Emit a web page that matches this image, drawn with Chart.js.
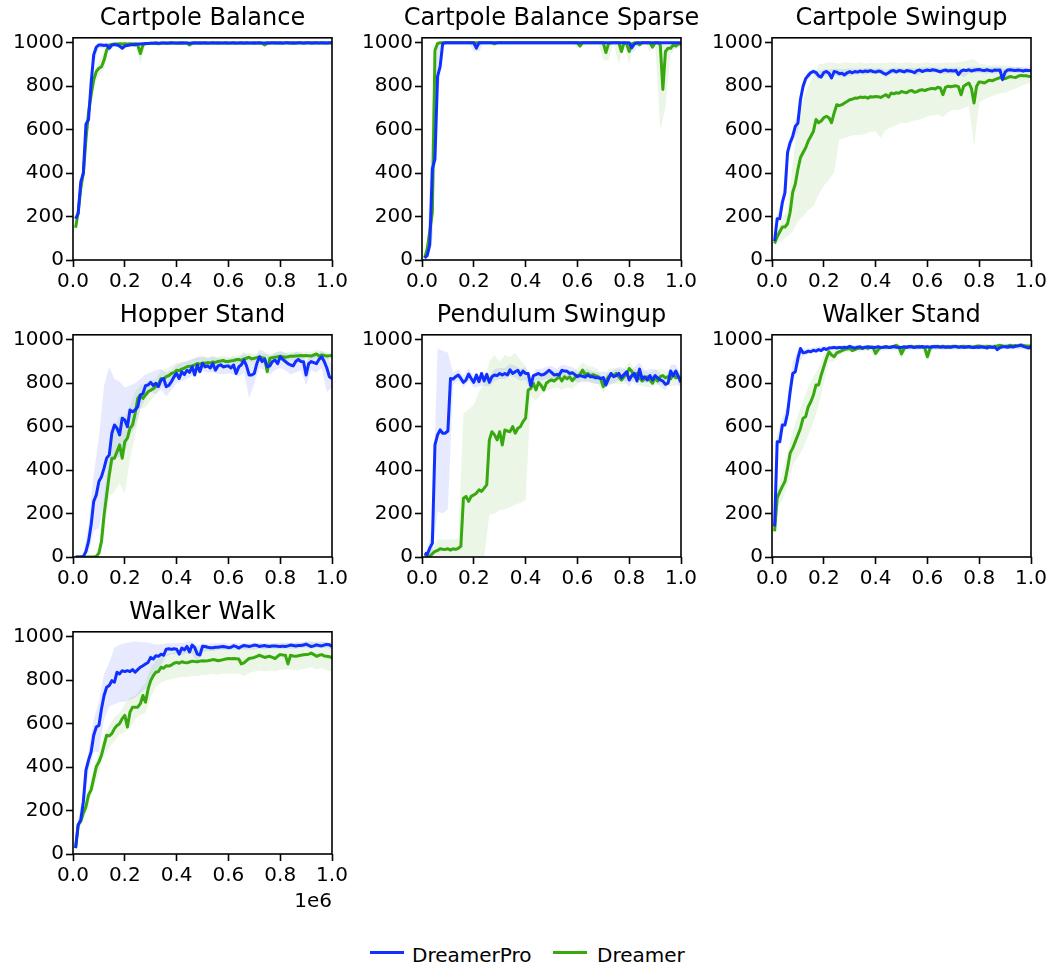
<!DOCTYPE html>
<html>
<head>
<meta charset="utf-8">
<script src="https://cdn.jsdelivr.net/npm/chart.js@4.4.1/dist/chart.umd.min.js"></script>
<style>
  body { margin: 0; background: #fff; width: 1050px; height: 968px; overflow: hidden; position: relative; font-family: 'DejaVu Sans', sans-serif; }
  canvas { position: absolute; }
  .swatch { position: absolute; height: 3px; width: 34px; }
  .label { position: absolute; font-size: 20px; line-height: 24px; color: #000; white-space: nowrap; }
</style>
</head>
<body>
<canvas id="c0"></canvas>
<canvas id="c1"></canvas>
<canvas id="c2"></canvas>
<canvas id="c3"></canvas>
<canvas id="c4"></canvas>
<canvas id="c5"></canvas>
<canvas id="c6"></canvas>
<div class="swatch" style="left:370px; top:951px; background:#1030ff"></div>
<div class="label" style="left:412px; top:943px">DreamerPro</div>
<div class="swatch" style="left:553px; top:951px; background:#38a80f"></div>
<div class="label" style="left:597px; top:943px">Dreamer</div>
<script>
// environment steps, in units of 1e6
const steps = [
  0.01,0.02,0.03,0.04,0.05,0.06,0.07,0.08,0.09,0.10,
  0.11,0.12,0.13,0.14,0.15,0.16,0.17,0.18,0.19,0.20,
  0.21,0.22,0.23,0.24,0.25,0.26,0.27,0.28,0.29,0.30,
  0.31,0.32,0.33,0.34,0.35,0.36,0.37,0.38,0.39,0.40,
  0.41,0.42,0.43,0.44,0.45,0.46,0.47,0.48,0.49,0.50,
  0.51,0.52,0.53,0.54,0.55,0.56,0.57,0.58,0.59,0.60,
  0.61,0.62,0.63,0.64,0.65,0.66,0.67,0.68,0.69,0.70,
  0.71,0.72,0.73,0.74,0.75,0.76,0.77,0.78,0.79,0.80,
  0.81,0.82,0.83,0.84,0.85,0.86,0.87,0.88,0.89,0.90,
  0.91,0.92,0.93,0.94,0.95,0.96,0.97,0.98,0.99,1.00
];
// coarser steps for the shaded spread
const bandSteps = [
  0.01,0.02,0.04,0.06,0.08,0.10,0.12,0.14,0.16,0.18,
  0.20,0.22,0.24,0.26,0.28,0.30,0.32,0.34,0.36,0.38,
  0.40,0.42,0.44,0.46,0.48,0.50,0.52,0.54,0.56,0.58,
  0.60,0.62,0.64,0.66,0.68,0.70,0.72,0.74,0.76,0.78,
  0.80,0.82,0.84,0.86,0.88,0.90,0.92,0.94,0.96,0.98,
  1.00
];
const xTicks = [0, 0.2, 0.4, 0.6, 0.8, 1.0];
const yTicks = [0, 200, 400, 600, 800, 1000];
const titles = ['Cartpole Balance', 'Cartpole Balance Sparse', 'Cartpole Swingup',
  'Hopper Stand', 'Pendulum Swingup', 'Walker Stand', 'Walker Walk'];

// ---- Cartpole Balance
const balanceBlue = [
  190,215,360,400,625,647,815,945,980,990,
  990,988,990,975,990,992,990,985,975,985,
  988,990,992,990,995,995,996,997,997,998,
  998,999,998,999,999,998,999,1000,999,999,
  999,1000,999,999,998,999,1000,999,1000,999,
  1000,999,999,1000,999,1000,999,999,1000,999,
  999,1000,999,999,1000,999,1000,999,999,1000,
  999,1000,999,999,1000,999,1000,1000,999,1000,
  999,1000,1000,999,1000,999,1000,1000,999,1000,
  1000,999,1000,1000,999,1000,1000,999,1000,1000
];
const balanceGreen = [
  148,220,330,400,555,680,760,830,868,883,
  890,920,966,990,992,994,995,996,995,996,
  995,996,995,996,990,950,990,996,997,998,
  998,999,995,998,999,999,998,999,999,998,
  999,998,999,999,990,998,999,999,998,999,
  999,998,999,999,999,998,999,999,999,998,
  999,999,998,999,999,998,999,999,999,998,
  999,999,998,990,998,999,999,998,999,999,
  998,999,999,999,998,999,999,999,998,999,
  999,999,998,999,999,999,998,999,999,999
];
const balanceBlueLo = [
  170,190,370,620,900,975,975,960,985,975,
  975,985,985,990,993,995,995,996,996,996,
  996,996,996,996,996,996,996,996,996,996,
  996,996,996,996,996,996,996,996,996,996,
  996,996,996,996,996,996,996,996,996,996,
  996
];
const balanceBlueHi = [
  210,240,430,680,975,1000,1000,995,1000,1000,
  1000,1000,1000,1000,1000,1000,1000,1000,1000,1000,
  1000,1000,1000,1000,1000,1000,1000,1000,1000,1000,
  1000,1000,1000,1000,1000,1000,1000,1000,1000,1000,
  1000,1000,1000,1000,1000,1000,1000,1000,1000,1000,
  1000
];
const balanceGreenLo = [
  130,190,360,640,800,850,880,975,985,990,
  990,990,985,900,990,994,995,995,995,995,
  995,995,995,985,995,995,995,995,995,995,
  995,995,995,995,995,995,995,985,995,995,
  995,995,995,995,995,995,995,995,995,995,
  995
];
const balanceGreenHi = [
  170,250,440,720,860,920,960,1000,1000,1000,
  1000,1000,1000,1000,1000,1000,1000,1000,1000,1000,
  1000,1000,1000,1000,1000,1000,1000,1000,1000,1000,
  1000,1000,1000,1000,1000,1000,1000,1000,1000,1000,
  1000,1000,1000,1000,1000,1000,1000,1000,1000,1000,
  1000
];

// ---- Cartpole Balance Sparse
const sparseBlue = [
  10,20,70,420,465,845,890,997,1000,1000,
  1000,1000,1000,1000,1000,1000,1000,1000,1000,1000,
  975,1000,1000,1000,1000,1000,1000,1000,1000,1000,
  1000,1000,1000,1000,1000,1000,1000,1000,1000,1000,
  1000,1000,1000,1000,1000,1000,1000,1000,1000,1000,
  1000,1000,1000,1000,1000,1000,1000,1000,1000,1000,
  1000,1000,1000,1000,1000,1000,1000,1000,1000,1000,
  1000,1000,1000,1000,1000,1000,1000,1000,1000,1000,
  977,995,1000,1000,1000,1000,1000,1000,1000,1000,
  1000,1000,1000,1000,1000,1000,1000,1000,1000,1000
];
const sparseGreen = [
  10,50,130,220,965,997,1000,1000,1000,1000,
  1000,1000,1000,1000,1000,1000,1000,1000,1000,1000,
  1000,1000,1000,1000,1000,1000,1000,995,1000,1000,
  1000,1000,1000,1000,1000,1000,1000,1000,1000,1000,
  1000,1000,1000,1000,1000,1000,1000,1000,1000,1000,
  1000,1000,1000,1000,1000,1000,1000,1000,1000,1000,
  985,1000,1000,1000,1000,1000,1000,1000,1000,1000,
  955,995,1000,1000,1000,1000,960,1000,995,960,
  995,1000,1000,990,1000,1000,1000,1000,980,1000,
  1000,990,785,960,975,975,990,985,995,995
];
const sparseBlueLo = [
  0,5,100,700,990,1000,1000,1000,1000,1000,
  960,960,1000,1000,1000,1000,1000,1000,1000,1000,
  1000,1000,1000,1000,1000,1000,1000,1000,1000,1000,
  1000,1000,1000,1000,1000,1000,1000,1000,1000,1000,
  960,960,1000,1000,1000,1000,1000,1000,1000,1000,
  1000
];
const sparseBlueHi = [
  20,40,700,1000,1000,1000,1000,1000,1000,1000,
  1000,1000,1000,1000,1000,1000,1000,1000,1000,1000,
  1000,1000,1000,1000,1000,1000,1000,1000,1000,1000,
  1000,1000,1000,1000,1000,1000,1000,1000,1000,1000,
  1000,1000,1000,1000,1000,1000,1000,1000,1000,1000,
  1000
];
const sparseGreenLo = [
  0,20,100,990,1000,1000,1000,1000,1000,1000,
  1000,1000,1000,1000,1000,1000,1000,1000,1000,1000,
  1000,1000,1000,1000,1000,1000,1000,1000,1000,1000,
  975,1000,1000,1000,1000,920,920,1000,900,1000,
  900,1000,980,1000,960,1000,600,700,950,970,
  985
];
const sparseGreenHi = [
  20,100,350,1000,1000,1000,1000,1000,1000,1000,
  1000,1000,1000,1000,1000,1000,1000,1000,1000,1000,
  1000,1000,1000,1000,1000,1000,1000,1000,1000,1000,
  1000,1000,1000,1000,1000,1000,1000,1000,1000,1000,
  1000,1000,1000,1000,1000,1000,1000,1000,1000,1000,
  1000
];

// ---- Cartpole Swingup
const swingupBlue = [
  87,190,190,265,310,495,540,570,615,630,
  740,800,835,850,863,868,863,848,842,863,
  868,860,838,868,865,857,860,852,862,867,
  862,868,865,870,866,870,868,872,868,865,
  870,868,860,855,862,870,872,866,872,870,
  866,872,870,868,862,872,875,868,872,875,
  872,876,874,870,866,872,875,870,872,870,
  873,853,870,875,872,876,870,874,876,877,
  874,872,876,872,870,875,874,875,830,865,
  875,876,874,872,875,873,870,874,872,872
];
const swingupGreen = [
  76,107,130,152,152,167,220,312,350,418,
  472,495,517,548,570,593,647,632,640,655,
  662,655,632,677,715,711,715,723,730,738,
  740,746,745,750,748,750,745,752,750,753,
  752,748,755,761,750,769,765,770,768,776,
  772,770,778,780,772,775,782,784,780,785,
  788,790,787,795,792,761,795,800,798,800,
  802,798,761,800,808,815,790,723,800,820,
  818,815,822,828,825,830,835,840,838,835,
  840,845,842,840,846,850,848,848,846,845
];
const swingupBlueLo = [
  70,160,240,460,540,590,780,835,855,830,
  850,845,850,845,840,848,852,855,853,858,
  855,858,840,855,858,860,858,860,848,860,
  862,862,864,855,858,858,858,840,860,860,
  862,858,860,858,862,840,862,862,860,860,
  858
];
const swingupBlueHi = [
  100,210,290,530,600,690,820,865,880,870,
  878,878,880,880,878,882,880,882,884,884,
  882,884,875,884,886,885,884,886,880,888,
  888,888,886,884,886,886,888,875,888,890,
  890,888,888,888,890,880,888,888,888,888,
  886
];
const swingupGreenLo = [
  60,80,90,110,130,180,200,230,250,300,
  342,370,403,555,560,570,575,575,580,590,
  593,560,600,610,620,632,630,640,645,650,
  662,665,670,660,680,692,690,700,710,525,
  723,740,750,760,768,770,780,790,800,810,
  815
];
const swingupGreenHi = [
  90,130,190,230,440,650,740,800,850,900,
  905,910,908,905,910,908,906,910,905,908,
  905,908,906,910,908,906,910,908,905,908,
  910,905,908,906,910,908,910,915,920,925,
  905,900,898,900,895,895,892,890,888,880,
  878
];

// ---- Hopper Stand
const hopperBlue = [
  0,0,0,2,26,72,148,256,286,348,
  370,409,455,470,570,608,593,562,639,631,
  600,677,669,677,692,746,753,789,792,804,
  790,800,785,815,822,784,790,807,830,845,
  822,853,840,860,850,876,838,884,853,891,
  875,880,870,891,860,880,885,875,878,880,
  870,884,845,875,885,906,880,838,838,845,
  891,922,900,910,876,880,900,906,890,922,
  910,900,890,884,880,900,910,900,899,838,
  890,900,895,890,910,922,900,870,830,822
];
const hopperGreen = [
  0,0,0,0,0,0,0,0,3,18,
  72,194,286,378,455,455,485,516,455,531,
  547,593,608,662,730,746,730,746,761,768,
  775,785,795,822,820,830,835,845,848,860,
  858,865,870,876,878,880,885,891,888,893,
  892,895,893,898,896,900,902,905,900,900,
  903,905,908,910,905,912,915,920,912,915,
  918,920,918,915,853,915,918,920,922,925,
  922,920,922,925,924,925,926,928,927,928,
  926,925,930,935,925,930,928,925,927,928
];
const hopperBlueLo = [
  0,0,0,20,120,133,250,350,455,460,
  485,560,600,680,730,760,750,770,740,770,
  800,810,820,835,845,855,850,850,845,840,
  845,840,830,850,730,800,870,860,840,860,
  870,860,840,850,860,790,860,850,870,760,
  780
];
const hopperBlueHi = [
  0,0,10,150,380,550,790,876,820,807,
  780,790,800,820,840,850,860,865,850,860,
  885,895,900,910,920,925,915,925,915,915,
  915,920,915,945,920,910,955,945,925,940,
  950,940,930,945,940,900,935,930,950,935,
  880
];
const hopperGreenLo = [
  0,0,0,0,0,0,100,280,300,340,
  290,450,560,680,690,720,750,780,795,810,
  825,835,845,850,860,865,870,875,878,880,
  880,885,890,892,900,895,900,880,895,900,
  905,900,905,905,910,910,905,915,912,908,
  912
];
const hopperGreenHi = [
  0,0,0,0,0,40,290,470,600,650,
  650,700,760,790,800,815,820,860,865,880,
  895,895,905,910,920,920,920,920,922,928,
  920,925,930,932,940,935,940,935,935,940,
  945,940,945,945,946,946,945,955,948,942,
  944
];

// ---- Pendulum Swingup
const pendulumBlue = [
  18,11,41,64,516,562,585,570,570,580,
  822,819,830,838,822,804,815,842,822,804,
  838,807,845,810,841,804,830,838,835,845,
  838,845,838,862,845,853,860,838,856,845,
  845,789,835,840,845,838,840,848,860,850,
  838,840,838,860,856,855,845,848,840,830,
  835,832,828,838,830,830,825,825,822,826,
  792,820,845,830,835,845,825,840,853,815,
  835,845,810,865,820,830,815,835,815,835,
  825,815,810,795,800,856,835,856,830,804
];
const pendulumGreen = [
  10,5,3,15,26,30,38,36,35,38,
  32,38,35,40,49,271,279,256,279,286,
  294,309,302,317,332,539,577,562,539,577,
  516,585,580,577,600,570,593,600,623,639,
  769,776,800,769,804,790,769,800,810,815,
  810,820,830,810,830,820,830,812,825,835,
  840,861,840,845,835,840,835,830,820,784,
  810,830,840,835,845,830,815,830,840,868,
  855,830,845,825,810,820,830,815,800,825,
  810,830,835,825,830,820,840,825,830,820
];
const pendulumBlueLo = [
  0,0,20,210,200,220,790,815,780,810,
  780,785,790,785,810,820,820,835,825,810,
  815,760,815,810,820,820,815,830,825,815,
  805,805,810,800,795,795,790,800,815,810,
  785,815,835,800,805,805,785,765,825,825,
  775
];
const pendulumBlueHi = [
  30,25,150,960,950,940,850,865,830,870,
  830,835,840,830,865,870,870,890,880,865,
  875,820,865,865,875,880,865,885,880,875,
  855,860,865,855,850,855,850,860,875,870,
  845,875,895,860,865,865,845,825,885,885,
  835
];
const pendulumGreenLo = [
  0,0,0,0,0,0,0,0,0,0,
  0,0,0,195,200,215,220,230,240,250,
  260,740,720,750,765,775,780,770,780,775,
  795,815,805,800,795,755,795,800,795,795,
  830,795,790,785,780,790,795,790,785,790,
  790
];
const pendulumGreenHi = [
  20,15,40,80,80,80,80,85,660,680,
  700,760,800,900,930,900,930,920,940,905,
  880,830,830,835,845,855,860,855,865,855,
  870,895,880,875,865,815,865,870,865,865,
  900,865,860,855,850,860,865,860,855,870,
  850
];

// ---- Walker Stand
const standBlue = [
  141,531,531,608,608,662,761,845,853,914,
  960,940,942,948,945,952,948,955,950,960,
  955,962,963,965,962,965,963,966,964,970,
  965,962,966,968,962,966,968,964,966,965,
  968,964,966,968,965,967,969,966,964,965,
  968,966,969,967,965,968,966,969,967,968,
  966,969,967,970,966,968,965,968,966,968,
  970,966,968,965,967,969,966,964,967,965,
  968,966,962,968,965,967,955,964,968,968,
  966,969,967,970,972,975,970,966,962,968
];
const standGreen = [
  118,271,300,325,348,409,478,501,531,562,
  593,639,646,692,715,746,792,792,838,876,
  914,945,930,922,940,945,950,955,958,960,
  950,955,960,962,960,965,960,968,965,937,
  955,965,966,968,966,965,970,975,968,935,
  960,966,968,970,966,968,970,966,962,922,
  960,968,970,966,968,970,968,966,968,970,
  968,966,968,970,967,968,966,968,970,972,
  968,966,970,968,966,970,972,975,972,970,
  972,975,972,974,972,976,974,972,970,972
];
const standBlueLo = [
  120,480,580,630,800,880,925,935,940,945,
  950,955,955,955,955,955,955,955,955,955,
  955,955,955,955,955,955,955,955,955,955,
  955,955,955,955,955,955,955,955,955,955,
  955,955,955,955,955,955,955,955,955,955,
  955
];
const standBlueHi = [
  160,560,640,700,900,950,955,960,965,968,
  970,972,975,975,975,975,975,975,975,975,
  975,975,975,975,975,975,975,975,975,975,
  975,975,975,975,975,975,975,975,975,975,
  978,978,978,978,978,978,978,980,985,980,
  978
];
const standGreenLo = [
  100,230,260,330,420,460,500,560,620,700,
  800,900,900,930,940,945,945,945,948,950,
  920,948,952,952,952,915,955,955,955,955,
  900,955,955,955,955,955,955,958,958,958,
  958,958,958,958,960,960,960,960,960,960,
  960
];
const standGreenHi = [
  130,310,390,480,580,650,720,780,830,870,
  935,965,960,960,962,965,968,970,972,972,
  960,975,975,975,978,960,978,978,978,975,
  950,978,978,978,978,978,978,980,980,980,
  980,980,980,980,982,982,982,982,982,982,
  982
];

// ---- Walker Walk
const walkBlue = [
  27,134,157,241,386,432,470,547,585,592,
  669,730,768,776,798,791,837,829,844,840,
  844,840,849,837,849,860,867,875,882,905,
  898,913,910,920,915,943,945,942,945,943,
  920,948,940,956,930,962,950,920,916,956,
  955,952,950,950,952,952,954,955,953,950,
  952,959,955,948,955,960,958,955,958,962,
  960,955,958,960,956,955,958,958,956,955,
  957,955,958,962,960,958,960,960,962,966,
  960,955,958,963,960,958,962,965,963,955
];
const walkGreen = [
  27,134,150,188,218,272,295,348,402,424,
  455,501,547,544,554,577,592,600,623,638,
  585,653,676,676,676,692,730,699,760,798,
  821,837,840,860,855,867,865,870,878,882,
  878,885,882,880,884,888,886,885,888,890,
  889,890,892,895,893,890,892,895,898,900,
  899,900,899,898,875,880,890,900,902,905,
  910,915,910,905,908,910,905,900,910,918,
  916,915,875,915,912,910,913,915,917,918,
  920,925,918,910,915,918,912,910,908,905
];
const walkBlueLo = [
  15,110,190,380,470,470,620,680,690,700,
  700,710,720,740,760,790,840,870,910,920,
  920,915,925,920,880,930,935,935,938,940,
  938,940,940,942,940,942,945,942,945,945,
  942,945,945,945,948,950,945,948,950,948,
  940
];
const walkBlueHi = [
  40,160,290,480,620,700,830,880,950,965,
  970,975,980,975,975,970,965,965,970,970,
  970,972,975,980,960,970,968,970,970,972,
  968,972,970,972,970,974,972,970,972,972,
  970,972,974,975,975,978,975,978,978,975,
  972
];
const walkGreenLo = [
  15,110,160,230,300,380,450,490,520,550,
  560,580,620,640,650,720,770,790,800,805,
  810,815,815,820,820,825,825,830,825,830,
  830,830,830,820,835,840,845,840,845,840,
  850,850,850,845,850,855,860,850,855,845,
  840
];
const walkGreenHi = [
  40,160,220,310,390,470,550,590,630,650,
  690,720,730,760,790,860,890,910,920,925,
  935,940,940,945,945,950,950,955,955,955,
  960,960,960,955,962,965,970,965,968,965,
  975,972,970,970,972,978,982,972,978,975,
  970
];

const BLUE = '#1030ff';
const GREEN = '#38a80f';
const BLUE_BAND = 'rgba(16,48,255,0.1)';
const GREEN_BAND = 'rgba(56,168,15,0.1)';

const panels = [
  { blue: balanceBlue, green: balanceGreen, bLo: balanceBlueLo, bHi: balanceBlueHi, gLo: balanceGreenLo, gHi: balanceGreenHi },
  { blue: sparseBlue, green: sparseGreen, bLo: sparseBlueLo, bHi: sparseBlueHi, gLo: sparseGreenLo, gHi: sparseGreenHi },
  { blue: swingupBlue, green: swingupGreen, bLo: swingupBlueLo, bHi: swingupBlueHi, gLo: swingupGreenLo, gHi: swingupGreenHi },
  { blue: hopperBlue, green: hopperGreen, bLo: hopperBlueLo, bHi: hopperBlueHi, gLo: hopperGreenLo, gHi: hopperGreenHi },
  { blue: pendulumBlue, green: pendulumGreen, bLo: pendulumBlueLo, bHi: pendulumBlueHi, gLo: pendulumGreenLo, gHi: pendulumGreenHi },
  { blue: standBlue, green: standGreen, bLo: standBlueLo, bHi: standBlueHi, gLo: standGreenLo, gHi: standGreenHi },
  { blue: walkBlue, green: walkGreen, bLo: walkBlueLo, bHi: walkBlueHi, gLo: walkGreenLo, gHi: walkGreenHi }
];

// layout of the 3x3 grid (axes left / top edges)
const colLeft = [73, 422, 772];
const rowTop = [38, 335, 632];
const SIDE_W = 73;     // y-axis strip; mirrored on the right so titles centre on the axes
const PLOT_W = 259;
const TITLE_H = 37;
const PLOT_H = 222;

Chart.defaults.font.family = "'DejaVu Sans', sans-serif";
Chart.defaults.color = '#000';

const frame = {
  id: 'frame',
  afterDraw(chart) {
    const a = chart.chartArea, ctx = chart.ctx;
    ctx.save();
    ctx.strokeStyle = '#000';
    ctx.lineWidth = 1.6;
    ctx.strokeRect(a.left, a.top, a.right - a.left, a.bottom - a.top);
    ctx.restore();
  }
};

function pts(xs, ys) {
  return xs.map(function (x, i) { return { x: x, y: ys[i] }; });
}

function band(xs, ys, fill, color) {
  return {
    data: pts(xs, ys), fill: fill, backgroundColor: color,
    borderColor: 'rgba(0,0,0,0)', borderWidth: 0, pointRadius: 0
  };
}

function noPad(s) { s.paddingLeft = 0; s.paddingRight = 0; s.paddingTop = 0; s.paddingBottom = 0; }

panels.forEach(function (p, i) {
  const col = i % 3, row = Math.floor(i / 3);
  const last = i === 6;
  const xAxisH = last ? 64 : 40;
  const canvas = document.getElementById('c' + i);
  canvas.width = SIDE_W * 2 + PLOT_W;
  canvas.height = TITLE_H + PLOT_H + xAxisH;
  canvas.style.left = (colLeft[col] - SIDE_W) + 'px';
  canvas.style.top = (rowTop[row] - TITLE_H) + 'px';

  new Chart(canvas.getContext('2d'), {
    type: 'line',
    data: {
      datasets: [
        Object.assign(band(bandSteps, p.bLo, false, BLUE_BAND), { order: 5 }),
        Object.assign(band(bandSteps, p.bHi, '-1', BLUE_BAND), { order: 4 }),
        Object.assign(band(bandSteps, p.gLo, false, GREEN_BAND), { order: 3 }),
        Object.assign(band(bandSteps, p.gHi, '-1', GREEN_BAND), { order: 2 }),
        { label: 'Dreamer', data: pts(steps, p.green), borderColor: GREEN, borderWidth: 3,
          pointRadius: 0, fill: false, borderJoinStyle: 'round', order: 1 },
        { label: 'DreamerPro', data: pts(steps, p.blue), borderColor: BLUE, borderWidth: 3,
          pointRadius: 0, fill: false, borderJoinStyle: 'round', order: 0 }
      ]
    },
    options: {
      responsive: false,
      animation: false,
      events: [],
      layout: { padding: 0 },
      plugins: {
        legend: { display: false },
        tooltip: { enabled: false },
        title: {
          display: true, text: titles[i],
          font: { size: 24, weight: 'normal' }, color: '#000',
          padding: { top: 3, bottom: 5 }
        }
      },
      scales: {
        x: {
          type: 'linear', min: 0, max: 1.0,
          afterBuildTicks: function (s) { s.ticks = xTicks.map(function (v) { return { value: v }; }); },
          afterFit: function (s) { s.height = xAxisH; noPad(s); },
          grid: { drawOnChartArea: false, drawTicks: true, tickLength: 7, tickWidth: 1.6, tickColor: '#000' },
          border: { display: false },
          ticks: { font: { size: 20 }, color: '#000', padding: 3, maxRotation: 0,
            callback: function (v) { return v.toFixed(1); } },
          title: { display: last, text: '1e6', align: 'end', font: { size: 20 }, color: '#000',
            padding: { top: 0, bottom: 4 } }
        },
        y: {
          min: 0, max: 1023,
          afterBuildTicks: function (s) { s.ticks = yTicks.map(function (v) { return { value: v }; }); },
          afterFit: function (s) { s.width = SIDE_W; noPad(s); },
          grid: { drawOnChartArea: false, drawTicks: true, tickLength: 7, tickWidth: 1.6, tickColor: '#000' },
          border: { display: false },
          ticks: { font: { size: 20 }, color: '#000', padding: 2,
            callback: function (v) { return String(v); } }
        },
        yRight: {
          axis: 'y', position: 'right', min: 0, max: 1023,
          afterFit: function (s) { s.width = SIDE_W; noPad(s); },
          grid: { display: false },
          border: { display: false },
          ticks: { display: false }
        }
      }
    },
    plugins: [frame]
  });
});
</script>
</body>
</html>
